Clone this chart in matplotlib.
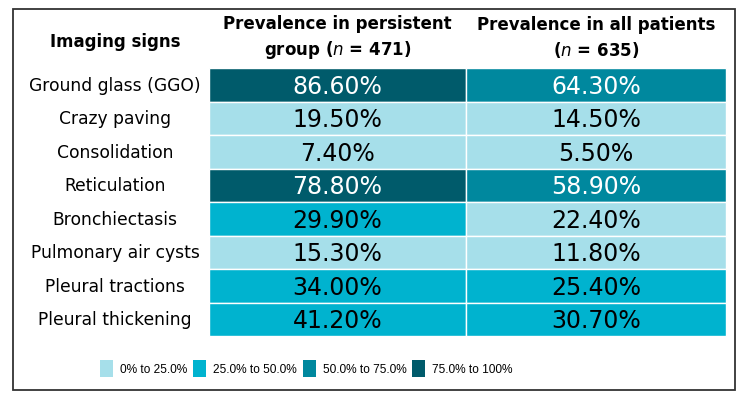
import matplotlib
matplotlib.use("Agg")
import matplotlib.pyplot as plt
from matplotlib.patches import Rectangle

signs = ["Ground glass (GGO)", "Crazy paving", "Consolidation", "Reticulation",
         "Bronchiectasis", "Pulmonary air cysts", "Pleural tractions", "Pleural thickening"]
persistent = [86.6, 19.5, 7.4, 78.8, 29.9, 15.3, 34.0, 41.2]
all_patients = [64.3, 14.5, 5.5, 58.9, 22.4, 11.8, 25.4, 30.7]
bins = [0, 25, 50, 75, 100]
bin_labels = ["0% to 25.0%", "25.0% to 50.0%", "50.0% to 75.0%", "75.0% to 100%"]
bin_colors = ["#a6dfea", "#00b3cf", "#00889e", "#005b6b"]
text_colors = ["black", "black", "white", "white"]

W, H = 746, 402
fig = plt.figure(figsize=(W / 100, H / 100), dpi=100)
ax = fig.add_axes([0, 0, 1, 1])
ax.set_xlim(0, W)
ax.set_ylim(H, 0)
ax.axis("off")

# frame
ax.add_patch(Rectangle((13, 10), 722, 381, fill=False, edgecolor="#333333", lw=1.3))

font = "DejaVu Sans"
col_x = [209, 466, 726]
row_top = 69
row_h = 33.5

def bin_index(v):
    for i in range(len(bins) - 1):
        if v < bins[i + 1] or i == len(bins) - 2:
            return i

# headers
hfs = 12
ax.text(115, 42, "Imaging signs", ha="center", va="center", fontsize=hfs,
        fontweight="bold", family=font)
ax.text((col_x[0] + col_x[1]) / 2, 38, "Prevalence in persistent\ngroup ($\\mathit{n}$ = 471)",
        ha="center", va="center", fontsize=hfs, fontweight="bold", family=font,
        linespacing=1.35)
ax.text((col_x[1] + col_x[2]) / 2, 38, "Prevalence in all patients\n($\\mathit{n}$ = 635)",
        ha="center", va="center", fontsize=hfs, fontweight="bold", family=font,
        linespacing=1.35)

for r, name in enumerate(signs):
    y0 = row_top + r * row_h
    yc = y0 + row_h / 2
    ax.text(115, yc, name, ha="center", va="center", fontsize=12.3, family=font)
    for c, vals in enumerate([persistent, all_patients]):
        v = vals[r]
        b = bin_index(v)
        ax.add_patch(Rectangle((col_x[c], y0), col_x[c + 1] - col_x[c], row_h,
                               facecolor=bin_colors[b], edgecolor="white", lw=1))
        ax.text((col_x[c] + col_x[c + 1]) / 2, yc + 1, f"{v:.2f}%", ha="center",
                va="center", fontsize=17, color=text_colors[b], family=font)

# legend
leg_x = [100, 193, 303, 412]
for i, lab in enumerate(bin_labels):
    ax.add_patch(Rectangle((leg_x[i], 361), 13, 17, facecolor=bin_colors[i], edgecolor="none"))
    ax.text(leg_x[i] + 20, 370, lab, ha="left", va="center", fontsize=8.6,
            family="Liberation Sans")

fig.savefig("out.png", dpi=100)
